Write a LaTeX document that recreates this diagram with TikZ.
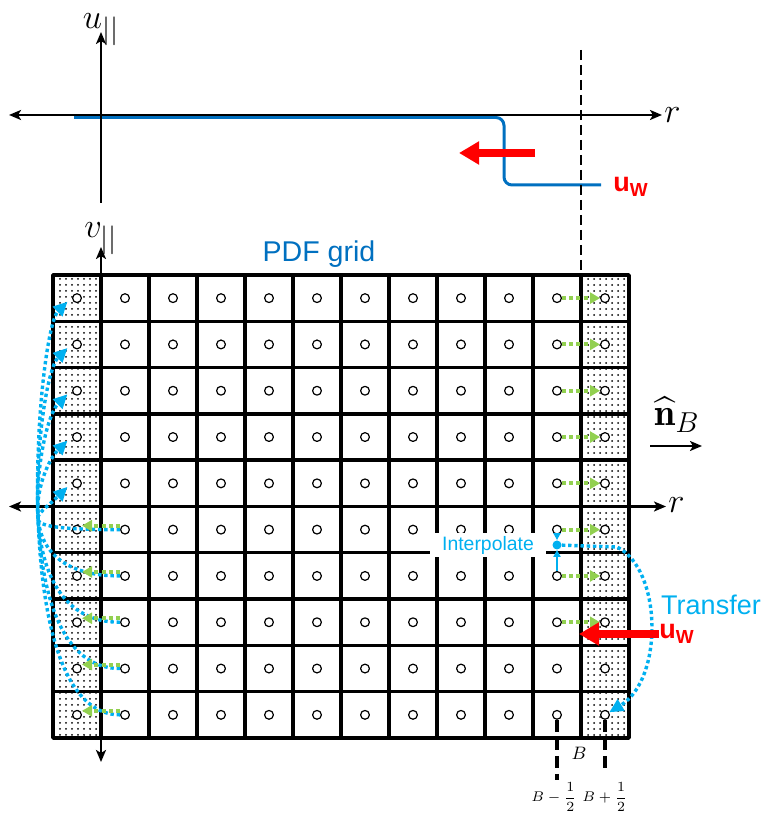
\documentclass[tikz,border=0pt]{standalone}
\usepackage{amsmath,amssymb}
\usepackage{fontspec}
\setsansfont{Liberation Sans}
\usetikzlibrary{arrows.meta,calc,patterns,positioning}
\definecolor{pdfblue}{RGB}{0,112,192}
\definecolor{xferblue}{RGB}{0,176,240}
\definecolor{copygreen}{RGB}{146,208,80}
\newcommand{\WallVel}{u\textsubscript{W}}
\tikzset{
  grid line/.style={line width=1.7pt},
  axis line/.style={line width=1.4pt},
  cell dot/.style={circle,draw,fill=white,line width=.6pt,minimum size=4.4pt,inner sep=0pt},
  ghost cells/.style={pattern=dots,pattern color=black},
  copy arrow/.style={copygreen,line width=2pt,dash pattern=on 2pt off 1.6pt,-{Triangle[length=5pt,width=5.5pt]}},
  transfer arrow/.style={xferblue,line width=1.7pt,dash pattern=on 1.7pt off 1.4pt,-{Triangle[length=7pt,width=6.5pt]}},
  interp arrow/.style={xferblue,line width=1pt,-{Triangle[length=3.5pt,width=3.5pt]}},
  wall arrow/.style={red,line width=4pt,-{Triangle[length=10pt,width=11pt]}},
  wall line/.style={line width=1.3pt,dash pattern=on 5pt off 2.5pt},
  tick line/.style={line width=1.6pt,dash pattern=on 6pt off 3pt},
  axis label/.style={font=\fontsize{19}{21}\selectfont,inner sep=1pt},
  wall label/.style={text=red,font=\sffamily\bfseries\fontsize{13.5}{15}\selectfont,inner sep=0pt},
  blue label/.style={inner sep=0pt,font=\sffamily\fontsize{#1}{#1}\selectfont}
}

\begin{document}
\begin{tikzpicture}[x=0.5pt,y=0.5pt,line join=round,>={Stealth[length=6pt,width=5pt,inset=1.5pt]}]
  \useasboundingbox (0,0) rectangle (769,819);

  \fill[ghost cells] (53,81) rectangle (101,544);
  \fill[ghost cells] (581,81) rectangle (629,544);
  \foreach \k in {1,...,11} {\draw[grid line] ({53+48*\k},81) -- ({53+48*\k},544);}
  \foreach \k in {1,...,9} {\draw[grid line] (53,{81+46.3*\k}) -- (629,{81+46.3*\k});}
  \draw[grid line,line width=1.9pt] (53,81) rectangle (629,544);

  \coordinate (u-foot) at (101,616);
  \coordinate (u-tip)  at (101,787);
  \coordinate (t-left) at (9,704);
  \coordinate (v-foot) at (101,57);
  \coordinate (v-tip)  at (101,572);
  \coordinate (g-left) at (9,312.5);
  \coordinate (nB-tail) at (650,373);
  \coordinate (nB-head) at (702,373);

  \coordinate (prof-a) at (74,701.5);
  \coordinate (prof-b) at (504,701.5);
  \coordinate (prof-c) at (504,634);
  \coordinate (prof-d) at (601,634);
  \draw[pdfblue,line width=1.5pt,rounded corners=4pt] (prof-a) -- (prof-b) -- (prof-c) -- (prof-d);

  \node[axis label,anchor=west] (r-top) at (662,704) {$r$};
  \node[axis label,anchor=west] (r-grid) at (666,314) {$r$};
  \node[axis label,above=-8pt of u-tip] (u-lab) {$u_{||}$};
  \node[axis label,above=-5pt of v-tip] (v-lab) {$v_{||}$};
  \node[axis label] (nB) at (677,404) {$\widehat{\mathbf{n}}_B$};

  \draw[axis line,<->] (t-left) -- (r-top.west);
  \draw[axis line,->] (u-foot) -- (u-tip);
  \draw[axis line,<->] (v-foot) -- (v-tip);
  \draw[axis line,<->] (g-left) -- (g-left -| r-grid.west);
  \draw[axis line,->] (nB-tail) -- (nB-head);

  \coordinate (wall-top) at (581,769);
  \coordinate (wall-foot) at (581,544);
  \draw[wall line] (wall-top) -- (wall-foot);

  \coordinate (w-top-tail) at (535,666);
  \coordinate (w-top-head) at (459,666);
  \draw[wall arrow] (w-top-tail) -- (w-top-head);
  \node[wall label] (uw-top) at (631,632) {\WallVel};

  \node[blue label=14.3,text=pdfblue] (pdf-lab) at (319,565) {PDF grid};

  \foreach \i in {1,...,12} {
    \foreach \j in {1,...,10} {
      \node[cell dot] (c-\i-\j) at ({29+48*\i},{544-46.3*(\j-0.5)}) {};
    }
  }

  \foreach \j/\t in {6/5,7/4,8/3,9/2,10/1} {
    \draw[transfer arrow] (c-2-\j.west) .. controls +(-115,0) and +(-30,-30) .. ([xshift=-3pt]c-1-\t.south west);
  }
  \foreach \j in {6,...,10} {
    \draw[copy arrow] ([yshift=2pt]c-2-\j.west) -- ([yshift=2pt]c-1-\j.east);
  }
  \foreach \j in {1,...,8} {
    \draw[copy arrow] (c-11-\j) -- (c-12-\j);
  }

  \node[blue label=9.7,text=xferblue,fill=white,inner xsep=6pt,inner ysep=1.5pt] (ip-lab) at (488,274) {Interpolate};
  \node[circle,fill=xferblue,inner sep=0pt,minimum size=4.5pt] (ip) at (557,274) {};
  \draw[interp arrow] (c-11-6) -- (ip);
  \draw[interp arrow] (c-11-7) -- (ip);
  \coordinate (tr-a) at (617,272);
  \draw[transfer arrow] (ip) -- (tr-a) .. controls (662,250) and (664,140) .. (c-12-10);
  \node[blue label=13.5,text=xferblue] (tr-lab) at (711,214) {Transfer};

  \coordinate (wall-hit) at (579,185);
  \node[wall label] (uw-bot) at (677,185) {\WallVel};
  \draw[wall arrow] (uw-bot.west) -- (wall-hit);

  \coordinate (bm-end) at (557,39);
  \coordinate (bp-end) at (605,47);
  \draw[tick line] (c-11-10) -- (bm-end);
  \draw[tick line] (c-12-10) -- (bp-end);
  \node[font=\fontsize{9.5}{11}\selectfont,inner sep=0pt] (B-lab) at (579,66) {$B$};
  \node[font=\fontsize{7}{8}\selectfont,inner sep=0pt] (bm-lab) at (554,22) {$B-\dfrac{1}{2}$};
  \node[font=\fontsize{7}{8}\selectfont,inner sep=0pt] (bp-lab) at (605,22) {$B+\dfrac{1}{2}$};
\end{tikzpicture}
\end{document}
